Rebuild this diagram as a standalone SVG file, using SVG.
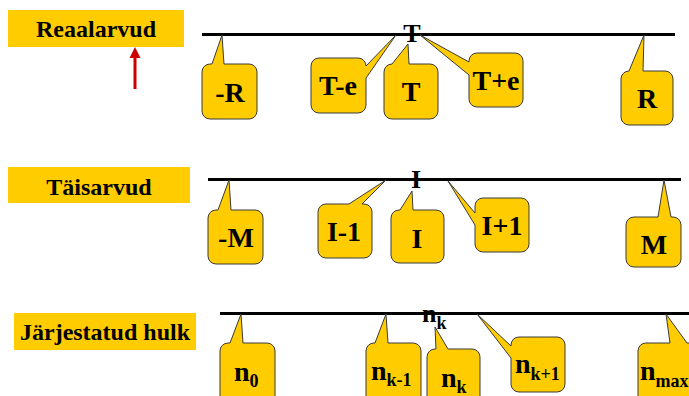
<svg xmlns="http://www.w3.org/2000/svg" width="689" height="396" viewBox="0 0 689 396">
<style>
.title{fill:#FFCC00}
.tt{font-family:'Liberation Serif','DejaVu Serif',serif;font-weight:bold;font-size:24px;fill:#000;text-anchor:middle}
.co{fill:#FFCC00;stroke:#3a3a3a;stroke-width:1;stroke-linejoin:round}
.ct{font-family:'Liberation Serif','DejaVu Serif',serif;font-weight:bold;font-size:28px;fill:#000;text-anchor:middle}
.cs{font-family:'Liberation Serif','DejaVu Serif',serif;font-weight:bold;font-size:28px;fill:#000}
.lb{font-size:26px}
.sub{font-size:18px}
.axis{stroke:#000;stroke-width:3;fill:none}
</style>
<rect width="689" height="396" fill="#fff"/>

<g id="connectors">
  <line class="axis" x1="202" y1="34.5" x2="675" y2="34.5"/>
  <line class="axis" x1="208" y1="179.5" x2="681" y2="179.5"/>
  <line class="axis" x1="220" y1="313.5" x2="689" y2="313.5"/>
  <line x1="135" y1="89" x2="135" y2="56" stroke="#CC0000" stroke-width="3"/>
  <polygon points="129.5,58 135,47 140.5,58" fill="#CC0000"/>
</g>

<g id="title-reaalarvud">
  <rect class="title" x="8" y="10" width="176" height="37"/>
  <text class="tt" x="96" y="37">Reaalarvud</text>
</g>
<g id="title-taisarvud">
  <rect class="title" x="8" y="167" width="182" height="36"/>
  <text class="tt" x="99" y="195">Täisarvud</text>
</g>
<g id="title-jarjestatud">
  <rect class="title" x="14" y="313" width="182" height="37"/>
  <text class="tt" x="105" y="340">Järjestatud hulk</text>
</g>

<g id="label-T"><text class="ct lb" x="412" y="42">T</text></g>
<g id="label-I"><text class="ct lb" x="416" y="188">I</text></g>
<g id="label-nk"><text class="cs lb" x="422" y="322">n<tspan class="sub" dy="7">k</tspan></text></g>

<!-- Row 1 -->
<g id="c-minusR">
  <path class="co" d="M210,64 L212,64 L222,35 L224,64 L249,64 A8,8 0 0 1 257,72 L257,111 A8,8 0 0 1 249,119 L210,119 A8,8 0 0 1 202,111 L202,72 A8,8 0 0 1 210,64 Z"/>
  <text class="ct" x="230" y="102">-R</text>
</g>
<g id="c-Te">
  <path class="co" d="M319,58 L358,58 A8,8 0 0 1 366,66 L396,35 L366,78 L366,105 A8,8 0 0 1 358,113 L319,113 A8,8 0 0 1 311,105 L311,66 A8,8 0 0 1 319,58 Z"/>
  <text class="ct" x="338" y="95">T-e</text>
</g>
<g id="c-T">
  <path class="co" d="M392,64 L408,44 L409,64 L430,64 A8,8 0 0 1 438,72 L438,111 A8,8 0 0 1 430,119 L392,119 A8,8 0 0 1 384,111 L384,72 A8,8 0 0 1 392,64 Z"/>
  <text class="ct" x="411" y="101">T</text>
</g>
<g id="c-Tpe">
  <path class="co" d="M477,53 L515,53 A8,8 0 0 1 523,61 L523,99 A8,8 0 0 1 515,107 L477,107 A8,8 0 0 1 469,99 L469,75 L420,35 L469,62 L469,61 A8,8 0 0 1 477,53 Z"/>
  <text class="ct" x="496" y="90">T+e</text>
</g>
<g id="c-R">
  <path class="co" d="M629,71 L644,35 L643,71 L665,71 A8,8 0 0 1 673,79 L673,117 A8,8 0 0 1 665,125 L629,125 A8,8 0 0 1 621,117 L621,79 A8,8 0 0 1 629,71 Z"/>
  <text class="ct" x="647" y="108">R</text>
</g>

<!-- Row 2 -->
<g id="c-minusM">
  <path class="co" d="M216,210 L218,210 L229,180 L231,210 L255,210 A8,8 0 0 1 263,218 L263,256 A8,8 0 0 1 255,264 L216,264 A8,8 0 0 1 208,256 L208,218 A8,8 0 0 1 216,210 Z"/>
  <text class="ct" x="236" y="247">-M</text>
</g>
<g id="c-Im1">
  <path class="co" d="M326,204 L349,204 L386,180 L362,204 L364,204 A8,8 0 0 1 372,212 L372,250 A8,8 0 0 1 364,258 L326,258 A8,8 0 0 1 318,250 L318,212 A8,8 0 0 1 326,204 Z"/>
  <text class="ct" x="344" y="241">I-1</text>
</g>
<g id="c-I">
  <path class="co" d="M399,210 L400,210 L412,191 L413,210 L436,210 A8,8 0 0 1 444,218 L444,255 A8,8 0 0 1 436,263 L399,263 A8,8 0 0 1 391,255 L391,218 A8,8 0 0 1 399,210 Z"/>
  <text class="ct" x="417" y="248">I</text>
</g>
<g id="c-Ip1">
  <path class="co" d="M483,198 L521,198 A8,8 0 0 1 529,206 L529,244 A8,8 0 0 1 521,252 L483,252 A8,8 0 0 1 475,244 L475,225 L448,181 L475,213 L475,206 A8,8 0 0 1 483,198 Z"/>
  <text class="ct" x="502" y="235">I+1</text>
</g>
<g id="c-M">
  <path class="co" d="M634,217 L658,217 L664,180 L671,217 L673,217 A8,8 0 0 1 681,225 L681,259 A8,8 0 0 1 673,267 L634,267 A8,8 0 0 1 626,259 L626,225 A8,8 0 0 1 634,217 Z"/>
  <text class="ct" x="654" y="254">M</text>
</g>

<!-- Row 3 -->
<g id="c-n0">
  <path class="co" d="M228,343 L230,343 L241,314 L243,343 L267,343 A8,8 0 0 1 275,351 L275,400 A8,8 0 0 1 267,408 L228,408 A8,8 0 0 1 220,400 L220,351 A8,8 0 0 1 228,343 Z"/>
  <text class="cs" x="234" y="381">n<tspan class="sub" dy="6">0</tspan></text>
</g>
<g id="c-nkm1">
  <path class="co" d="M374,343 L375,343 L386,314 L388,343 L413,343 A8,8 0 0 1 421,351 L421,400 A8,8 0 0 1 413,408 L374,408 A8,8 0 0 1 366,400 L366,351 A8,8 0 0 1 374,343 Z"/>
  <text class="cs" x="371" y="380">n<tspan class="sub" dy="6">k-1</tspan></text>
</g>
<g id="c-nk">
  <path class="co" d="M435,349 L436,349 L435,327 L448,349 L472,349 A8,8 0 0 1 480,357 L480,400 A8,8 0 0 1 472,408 L435,408 A8,8 0 0 1 427,400 L427,357 A8,8 0 0 1 435,349 Z"/>
  <text class="cs" x="441" y="387">n<tspan class="sub" dy="6">k</tspan></text>
</g>
<g id="c-nkp1">
  <path class="co" d="M519,337 L557,337 A8,8 0 0 1 565,345 L565,384 A8,8 0 0 1 557,392 L519,392 A8,8 0 0 1 511,384 L511,358 L477,314 L511,346 L511,345 A8,8 0 0 1 519,337 Z"/>
  <text class="cs" x="515" y="373">n<tspan class="sub" dy="7">k+1</tspan></text>
</g>
<g id="c-nmax">
  <path class="co" d="M646,343 L670,343 L666,314 L687,343 L687,343 L690,343 A8,8 0 0 1 698,351 L698,400 A8,8 0 0 1 690,408 L646,408 A8,8 0 0 1 638,400 L638,351 A8,8 0 0 1 646,343 Z"/>
  <text class="cs" x="640" y="380">n<tspan class="sub" dy="7">max</tspan></text>
</g>
</svg>
